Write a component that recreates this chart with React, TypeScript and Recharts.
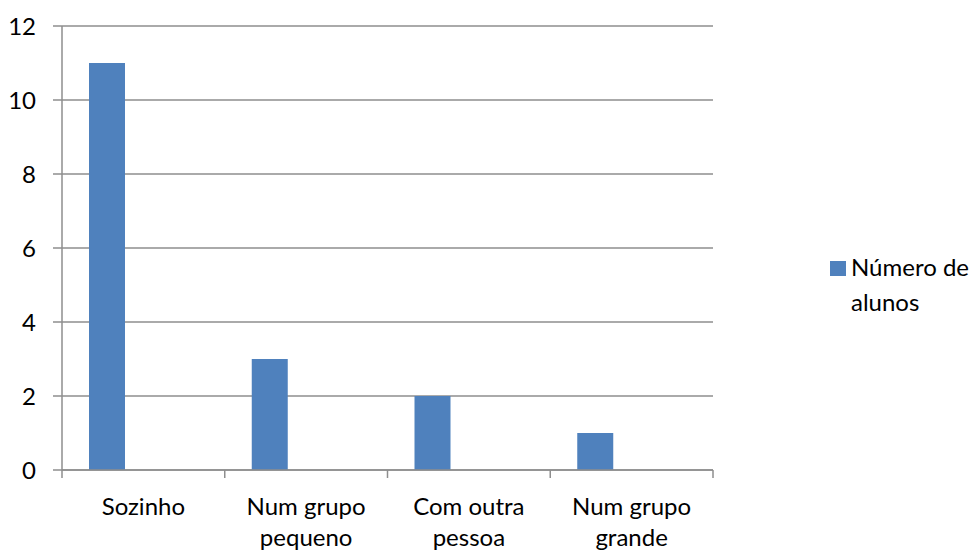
import { BarChart, Bar, XAxis, YAxis, CartesianGrid, Legend } from 'recharts';

const categories = ['Sozinho', 'Num grupo pequeno', 'Com outra pessoa', 'Num grupo grande'];
const alunos = [11, 3, 2, 1];
const yTicks = [0, 2, 4, 6, 8, 10, 12];

const SERIES_NAME = 'Número de alunos';
const BAR_COLOR = '#4F81BD';
const LINE_COLOR = '#8E8E8E';
const FONT = 'Lato, "Open Sans", sans-serif';

const WIDTH = 976;
const HEIGHT = 551;
const MARGIN = { top: 26, right: 263, left: 0, bottom: 0 };
const Y_AXIS_WIDTH = 62;
const PLOT_WIDTH = WIDTH - MARGIN.left - MARGIN.right - Y_AXIS_WIDTH;
const BAND = PLOT_WIDTH / categories.length;

const data = categories.map((name, i) => ({ name, alunos: alunos[i] }));

// long category names go on two lines, last word below
function splitLabel(label: string) {
  const words = label.split(' ');
  if (words.length <= 2) return [label];
  return [words.slice(0, -1).join(' '), words[words.length - 1]];
}

// tick marks sit on the category boundaries, labels in the middle
function CategoryTick(props: any) {
  const { x, y, payload } = props;
  const lines = splitLabel(String(payload.value));
  const isLast = payload.value === categories[categories.length - 1];
  return (
    <g>
      <line x1={x - BAND / 2} x2={x - BAND / 2} y1={y} y2={y + 8} stroke={LINE_COLOR} strokeWidth={1.5} />
      {isLast && (
        <line x1={x + BAND / 2} x2={x + BAND / 2} y1={y} y2={y + 8} stroke={LINE_COLOR} strokeWidth={1.5} />
      )}
      <text x={x} y={y + 45} textAnchor="middle" fontFamily={FONT} fontSize={24} fill="#000">
        {lines.map((line, i) => (
          <tspan key={i} x={x} dy={i === 0 ? 0 : 31}>
            {line}
          </tspan>
        ))}
      </text>
    </g>
  );
}

function LegendContent({ payload }: any) {
  const items = (payload || []).filter((entry: any) => entry.type !== 'none');
  return (
    <div>
      {items.map((entry: any) => (
        <div
          key={entry.value}
          style={{ position: 'relative', fontFamily: FONT, fontSize: 24, lineHeight: '35px', color: '#000' }}
        >
          <span
            style={{ position: 'absolute', left: 0, top: 12, width: 16, height: 15, background: entry.color }}
          />
          <div style={{ marginLeft: 21, width: 124 }}>{entry.value}</div>
        </div>
      ))}
    </div>
  );
}

export default function App() {
  return (
    <div style={{ position: 'absolute', left: 0, top: 0, background: '#fff' }}>
      <BarChart width={WIDTH} height={HEIGHT} data={data} margin={MARGIN} barGap={0} barCategoryGap={27}>
        <CartesianGrid vertical={false} stroke={LINE_COLOR} strokeWidth={1.5} />
        <XAxis
          dataKey="name"
          height={81}
          interval={0}
          tickLine={false}
          tickSize={0}
          tickMargin={0}
          axisLine={{ stroke: LINE_COLOR, strokeWidth: 1.5 }}
          tick={<CategoryTick />}
        />
        <YAxis
          width={Y_AXIS_WIDTH}
          domain={[0, 12]}
          ticks={yTicks}
          interval={0}
          tickSize={9}
          tickMargin={17}
          axisLine={{ stroke: LINE_COLOR, strokeWidth: 1.5 }}
          tickLine={{ stroke: LINE_COLOR, strokeWidth: 1.5 }}
          tick={{ fill: '#000', fontSize: 24, fontFamily: FONT }}
        />
        <Legend
          layout="vertical"
          align="center"
          verticalAlign="middle"
          wrapperStyle={{ left: 830, top: 249, width: 146 }}
          content={<LegendContent />}
        />
        <Bar dataKey="alunos" name={SERIES_NAME} fill={BAR_COLOR} isAnimationActive={false} />
        {/* two empty series reserve room so the bars sit at the left of each category */}
        <Bar dataKey="serie2" legendType="none" fill={BAR_COLOR} isAnimationActive={false} />
        <Bar dataKey="serie3" legendType="none" fill={BAR_COLOR} isAnimationActive={false} />
      </BarChart>
    </div>
  );
}
